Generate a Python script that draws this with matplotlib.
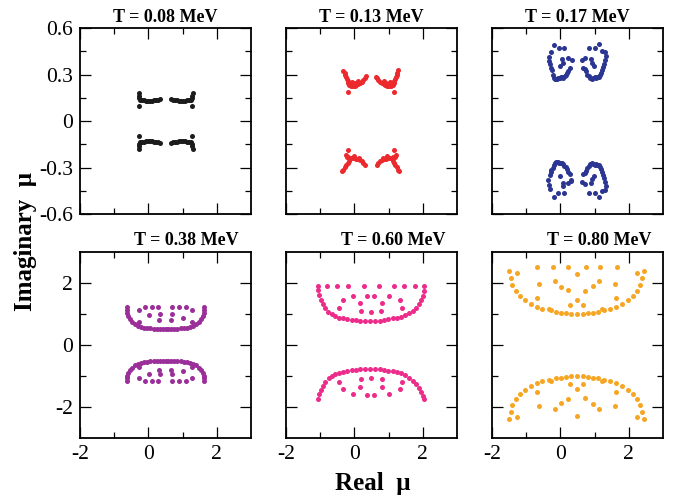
import matplotlib
matplotlib.use("Agg")
import matplotlib.pyplot as plt
from matplotlib.ticker import FixedLocator, FixedFormatter

plt.rcParams['font.family'] = ['Liberation Serif', 'DejaVu Serif']
plt.rcParams['axes.unicode_minus'] = False

# ---- zeros of the partition function in the complex mu plane ----
titles = ['T = 0.08 MeV', 'T = 0.13 MeV', 'T = 0.17 MeV',
          'T = 0.38 MeV', 'T = 0.60 MeV', 'T = 0.80 MeV']
colors = ['#1c1c1c', '#ec2a2e', '#2b3592', '#9b2f99', '#ec2b8b', '#f6a623']

t008_x = [-0.29, -0.28, -0.27, -0.24, -0.19, -0.13, -0.07, -0.01, 0.05, 0.11, 0.17, 0.23, 0.29, 0.34, -0.27,
          1.29, 1.28, 1.27, 1.24, 1.19, 1.13, 1.07, 1.01, 0.95, 0.89, 0.83, 0.77, 0.71, 0.66, 1.27,
          -0.29, -0.28, -0.27, -0.24, -0.19, -0.13, -0.07, -0.01, 0.05, 0.11, 0.17, 0.23, 0.29, 0.34, -0.27,
          1.29, 1.28, 1.27, 1.24, 1.19, 1.13, 1.07, 1.01, 0.95, 0.89, 0.83, 0.77, 0.71, 0.66, 1.27]
t008_y = [0.180, 0.163, 0.148, 0.138, 0.134, 0.133, 0.132, 0.132, 0.132, 0.132, 0.133, 0.134, 0.136, 0.140, 0.100,
          0.180, 0.163, 0.148, 0.138, 0.134, 0.133, 0.132, 0.132, 0.132, 0.132, 0.133, 0.134, 0.136, 0.140, 0.100,
          -0.178, -0.162, -0.148, -0.138, -0.134, -0.133, -0.132, -0.132, -0.132, -0.132, -0.133, -0.134, -0.136, -0.139, -0.098,
          -0.178, -0.162, -0.148, -0.138, -0.134, -0.133, -0.132, -0.132, -0.132, -0.132, -0.133, -0.134, -0.136, -0.139, -0.098]

t013_x = [-0.32, -0.29, -0.27, -0.25, -0.22, -0.20, -0.19, -0.16, -0.11, -0.05, 0.01, 0.06, 0.11, 0.16, 0.21, 0.26, 0.30, 0.33,
          -0.08, -0.13, 0.03, 0.09, -0.20,
          1.28, 1.25, 1.23, 1.21, 1.18, 1.16, 1.15, 1.12, 1.07, 1.01, 0.95, 0.90, 0.85, 0.80, 0.75, 0.70, 0.66, 0.63,
          1.04, 1.09, 0.93, 0.87, 1.16,
          -0.20, -0.255, -0.23, -0.18, -0.13, -0.08, -0.02, 0.04, 0.10, 0.16, 0.21, 0.26, 0.31,
          -0.16, -0.20, -0.24, -0.27, -0.32, -0.35, 0.00, 0.12,
          1.16, 1.215, 1.19, 1.14, 1.09, 1.04, 0.98, 0.92, 0.86, 0.80, 0.75, 0.70, 0.65,
          1.12, 1.16, 1.20, 1.23, 1.28, 1.31, 0.96, 0.84]
t013_y = [0.325, 0.310, 0.297, 0.285, 0.272, 0.260, 0.247, 0.234, 0.228, 0.226, 0.227, 0.231, 0.237, 0.244, 0.253, 0.265, 0.277, 0.288,
          0.254, 0.246, 0.248, 0.257, 0.185,
          0.328, 0.312, 0.298, 0.285, 0.272, 0.260, 0.247, 0.234, 0.228, 0.226, 0.227, 0.231, 0.237, 0.244, 0.253, 0.265, 0.277, 0.286,
          0.254, 0.246, 0.248, 0.257, 0.188,
          -0.187, -0.219, -0.235, -0.232, -0.238, -0.236, -0.240, -0.243, -0.247, -0.252, -0.260, -0.270, -0.284,
          -0.255, -0.270, -0.285, -0.298, -0.315, -0.322, -0.228, -0.236,
          -0.185, -0.219, -0.235, -0.232, -0.238, -0.236, -0.240, -0.243, -0.247, -0.252, -0.260, -0.270, -0.284,
          -0.255, -0.270, -0.285, -0.298, -0.315, -0.322, -0.228, -0.236]

t017_x = [-0.18, -0.03, 0.105, -0.285, -0.33, -0.34, -0.30, -0.27, -0.255, -0.225, -0.19, -0.16, -0.13, -0.095, -0.06, -0.025,
          0.01, 0.05, 0.085, 0.125, 0.165, 0.20, 0.23, 0.28, 0.056, 0.23, 0.33, -0.01, 0.085,
          0.846, 1.01, 1.14, 1.21, 1.31, 1.32, 1.30, 1.27, 1.255, 1.22, 1.19, 1.16, 1.12, 1.08, 1.04, 1.00,
          0.96, 0.92, 0.87, 0.83, 0.79, 0.75, 0.72, 0.67, 0.62, 0.72, 0.885, 0.99, 0.92,
          -0.19, -0.08, 0.105, -0.29, -0.34, -0.35, -0.31, -0.28, -0.26, -0.23, -0.20, -0.16, -0.12, -0.08, -0.04, 0.00,
          0.04, 0.08, 0.12, 0.16, 0.20, 0.23, 0.27, 0.31, 0.07, 0.21, 0.31, -0.01, 0.07,
          0.85, 1.00, 1.14, 1.21, 1.31, 1.32, 1.30, 1.27, 1.25, 1.22, 1.19, 1.16, 1.12, 1.08, 1.04, 1.00,
          0.96, 0.92, 0.87, 0.83, 0.79, 0.75, 0.72, 0.67, 0.62, 0.72, 0.885, 0.99, 0.92]
t017_y = [0.490, 0.469, 0.469, 0.447, 0.415, 0.390, 0.366, 0.345, 0.329, 0.300, 0.280, 0.272, 0.268, 0.270, 0.275, 0.280,
          0.286, 0.283, 0.280, 0.288, 0.297, 0.310, 0.323, 0.340, 0.400, 0.408, 0.394, 0.355, 0.376,
          0.469, 0.469, 0.497, 0.450, 0.447, 0.420, 0.394, 0.370, 0.350, 0.330, 0.310, 0.297, 0.285, 0.284, 0.280, 0.285,
          0.276, 0.272, 0.280, 0.290, 0.300, 0.320, 0.334, 0.344, 0.394, 0.408, 0.400, 0.355, 0.375,
          -0.488, -0.467, -0.467, -0.440, -0.410, -0.380, -0.350, -0.330, -0.316, -0.300, -0.284, -0.268, -0.262, -0.265, -0.270, -0.272,
          -0.274, -0.280, -0.288, -0.295, -0.310, -0.327, -0.345, -0.390, -0.400, -0.400, -0.380, -0.353, -0.420,
          -0.467, -0.467, -0.492, -0.450, -0.445, -0.420, -0.394, -0.370, -0.350, -0.330, -0.310, -0.297, -0.285, -0.282, -0.280, -0.285,
          -0.276, -0.272, -0.280, -0.290, -0.300, -0.320, -0.334, -0.344, -0.394, -0.408, -0.400, -0.355, -0.375]

t038_x = [-0.635, -0.63, -0.62, -0.59, -0.54, -0.47, -0.39, -0.30, -0.21, -0.12, -0.03, 0.06, 0.15, 0.24, 0.33, 0.42, 0.50,
          0.58, 0.67, 0.76, 0.85, 0.94, 1.03, 1.12, 1.21, 1.30, 1.39, 1.47, 1.54, 1.59, 1.62, 1.63, 1.635,
          -0.27, -0.10, 0.10, 0.29, 0.70, 0.90, 1.10, 1.27, 0.02, 0.34, 0.70, 1.02, -0.29, 0.32, 0.65, 1.27,
          -0.635, -0.63, -0.62, -0.59, -0.54, -0.47, -0.39, -0.30, -0.21, -0.12, -0.03, 0.06, 0.15, 0.24, 0.33, 0.42, 0.50,
          0.58, 0.67, 0.76, 0.85, 0.94, 1.03, 1.12, 1.21, 1.30, 1.39, 1.47, 1.54, 1.59, 1.62, 1.63, 1.635,
          -0.27, -0.10, 0.10, 0.29, 0.70, 0.90, 1.10, 1.27, 0.02, 0.34, 0.70, 1.02, -0.29, 0.32, 0.65, 1.27]
t038_y = [1.23, 1.13, 1.03, 0.93, 0.83, 0.74, 0.67, 0.62, 0.585, 0.56, 0.545, 0.535, 0.53, 0.525, 0.52, 0.52, 0.52,
          0.52, 0.52, 0.525, 0.53, 0.535, 0.545, 0.56, 0.585, 0.62, 0.67, 0.74, 0.83, 0.93, 1.03, 1.13, 1.23,
          1.13, 1.22, 1.22, 1.22, 1.22, 1.22, 1.22, 1.13, 0.97, 0.99, 0.99, 0.88, 0.75, 0.82, 0.82, 0.75,
          -1.17, -1.08, -0.99, -0.90, -0.81, -0.73, -0.66, -0.61, -0.575, -0.55, -0.535, -0.525, -0.52, -0.52, -0.52, -0.52, -0.52,
          -0.52, -0.52, -0.52, -0.525, -0.53, -0.535, -0.55, -0.575, -0.61, -0.66, -0.73, -0.81, -0.90, -0.99, -1.08, -1.17,
          -1.08, -1.17, -1.17, -1.17, -1.17, -1.17, -1.17, -1.08, -0.93, -0.95, -0.95, -0.85, -0.72, -0.79, -0.79, -0.72]

t060_x = [-1.055, -0.79, -0.50, -0.19, 0.28, 0.71, 1.16, 1.46, 1.77, 2.035,
          -1.055, -1.025, -0.975, -0.917, -0.85, -0.76, -0.665, -0.57, -0.45, -0.325, -0.21, -0.08, 0.047, 0.164, 0.31, 0.456,
          0.60, 0.75, 0.875, 0.99, 1.12, 1.236, 1.36, 1.48, 1.597, 1.70, 1.80, 1.88, 1.947, 1.996, 2.025,
          -0.03, 0.38, 0.58, 1.02, -0.34, 1.33, 0.16, 0.80, -0.45, 1.38, 0.19, 0.49, 0.78,
          -1.055, -1.035, -0.985, -0.925, -0.85, -0.75, -0.665, -0.57, -0.45, -0.325, -0.21, -0.08, 0.047, 0.164, 0.31, 0.456,
          0.60, 0.75, 0.875, 0.99, 1.12, 1.236, 1.36, 1.48, 1.597, 1.70, 1.80, 1.88, 1.947, 1.996, 2.035,
          -0.45, 0.19, 0.49, 0.80, 1.38, 0.16, 0.80, -0.34, 1.33, -0.03, 0.38, 0.58, 1.02]
t060_y = [1.89, 1.89, 1.89, 1.89, 1.89, 1.89, 1.89, 1.89, 1.89, 1.89,
          1.76, 1.61, 1.46, 1.32, 1.18, 1.08, 1.01, 0.95, 0.88, 0.86, 0.84, 0.82, 0.80, 0.79, 0.78, 0.78,
          0.78, 0.79, 0.81, 0.83, 0.86, 0.88, 0.91, 0.97, 1.03, 1.11, 1.20, 1.32, 1.45, 1.59, 1.74,
          1.59, 1.59, 1.59, 1.59, 1.44, 1.44, 1.34, 1.34, 1.20, 1.20, 1.10, 1.05, 1.10,
          -1.74, -1.59, -1.44, -1.31, -1.18, -1.08, -1.01, -0.95, -0.89, -0.86, -0.84, -0.82, -0.80, -0.77, -0.77, -0.77,
          -0.77, -0.78, -0.81, -0.83, -0.85, -0.87, -0.90, -0.97, -1.05, -1.15, -1.27, -1.40, -1.53, -1.64, -1.74,
          -1.18, -1.10, -1.05, -1.10, -1.18, -1.34, -1.34, -1.43, -1.43, -1.58, -1.60, -1.60, -1.58]

t080_x = [-1.49, -1.45, -1.40, -1.30, -1.18, -1.03, -0.86, -0.69, -0.53, -0.32, -0.275, -0.13, 0.01, 0.155, 0.30, 0.475,
          0.65, 0.82, 0.96, 1.11, 1.23, 1.27, 1.45, 1.625, 1.80, 1.97, 2.11, 2.24, 2.33, 2.40, 2.44,
          -1.28, 2.23,
          -0.69, -0.21, 0.21, 0.75, 1.16, 1.65, 0.475, -0.63, -0.16, 0.02, 0.23, 0.73, 0.94, 1.13, 1.60,
          -0.68, 1.625, 0.475, 0.28, 0.67,
          -1.49, -1.45, -1.40, -1.30, -1.18, -1.03, -0.86, -0.69, -0.53, -0.32, -0.275, -0.13, 0.01, 0.155, 0.30, 0.475,
          0.65, 0.82, 0.96, 1.11, 1.23, 1.27, 1.45, 1.625, 1.80, 1.97, 2.11, 2.24, 2.33, 2.40, 2.44,
          -1.28, 2.23,
          0.475, -0.63, -0.16, 0.02, 0.23, 0.73, 0.94, 1.13, 1.60,
          -0.68, 1.625, 0.475, 0.28, 0.67]
t080_y = [2.40, 2.15, 1.94, 1.75, 1.59, 1.44, 1.32, 1.23, 1.16, 1.15, 1.12, 1.06, 1.04, 1.03, 1.01, 1.00,
          1.01, 1.03, 1.04, 1.06, 1.15, 1.13, 1.16, 1.23, 1.32, 1.44, 1.59, 1.75, 1.94, 2.15, 2.40,
          2.31, 2.31,
          2.53, 2.53, 2.53, 2.53, 2.53, 2.53, 2.28, 1.97, 2.07, 1.88, 1.76, 1.73, 1.90, 2.07, 1.97,
          1.53, 1.53, 1.44, 1.28, 1.28,
          -2.40, -2.15, -1.94, -1.74, -1.58, -1.44, -1.32, -1.22, -1.15, -1.13, -1.16, -1.08, -1.05, -1.03, -1.01, -0.99,
          -1.01, -1.03, -1.05, -1.08, -1.15, -1.13, -1.15, -1.22, -1.32, -1.44, -1.58, -1.74, -1.94, -2.15, -2.40,
          -2.31, -2.31,
          -2.29, -1.97, -2.05, -1.86, -1.73, -1.72, -1.90, -2.05, -1.97,
          -1.53, -1.53, -1.42, -1.26, -1.26]

panels = [(t008_x, t008_y), (t013_x, t013_y), (t017_x, t017_y),
          (t038_x, t038_y), (t060_x, t060_y), (t080_x, t080_y)]

fig = plt.figure(figsize=(6.77, 4.97), dpi=100)

lefts = [0.1182, 0.4225, 0.7267]
bottoms = [0.5694, 0.1187]
w, h = 0.2526, 0.3742

for i, (xs, ys) in enumerate(panels):
    row, col = divmod(i, 3)
    ax = fig.add_axes([lefts[col], bottoms[row], w, h])
    ax.scatter(xs, ys, s=13, color=colors[i], linewidths=0, zorder=3)

    ax.set_xlim(-2, 3)
    ax.xaxis.set_major_locator(FixedLocator([-2, 0, 2]))
    ax.xaxis.set_minor_locator(FixedLocator([-1, 1]))
    if row == 0:
        ax.set_ylim(-0.6, 0.6)
        ax.yaxis.set_major_locator(FixedLocator([-0.6, -0.3, 0, 0.3, 0.6]))
        ax.yaxis.set_major_formatter(FixedFormatter(['-0.6', '-0.3', '0', '0.3', '0.6']))
        ax.yaxis.set_minor_locator(FixedLocator([-0.45, -0.15, 0.15, 0.45]))
    else:
        ax.set_ylim(-3, 3)
        ax.yaxis.set_major_locator(FixedLocator([-2, 0, 2]))
        ax.yaxis.set_minor_locator(FixedLocator([-1, 1]))

    ax.tick_params(which='both', direction='in', top=True, right=True,
                   labelsize=15.5, pad=5, width=0.9)
    ax.tick_params(which='major', length=8)
    ax.tick_params(which='minor', length=4.5)
    ax.tick_params(labelbottom=(row == 1), labelleft=(col == 0))
    for sp in ax.spines.values():
        sp.set_linewidth(1.3)

    if row == 0:
        ax.set_title(titles[i], fontsize=13, fontweight='bold', pad=4)
    else:
        ax.text(0.93, 1.015, titles[i], transform=ax.transAxes, ha='right', va='bottom',
                fontsize=13, fontweight='bold')

fig.text(0.038, 0.515, 'Imaginary  \u03bc', rotation=90, ha='center', va='center',
         fontsize=18, fontweight='bold')
fig.text(0.55, 0.028, 'Real  \u03bc', ha='center', va='center',
         fontsize=18, fontweight='bold')

fig.savefig('out.png', dpi=100)
